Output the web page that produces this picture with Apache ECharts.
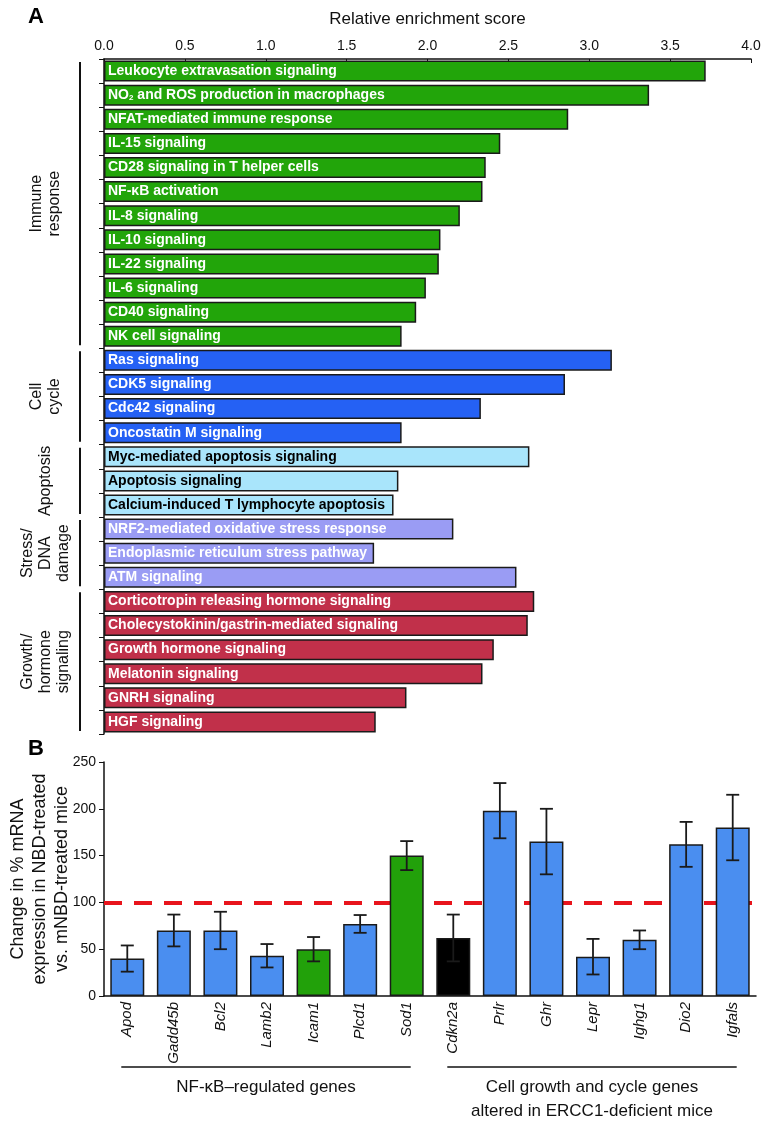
<!DOCTYPE html>
<html>
<head>
<meta charset="utf-8">
<script src="https://cdn.jsdelivr.net/npm/echarts@6/dist/echarts.min.js"></script>
<style>
  html, body { margin: 0; padding: 0; background: #fff; }
  #chart { width: 769px; height: 1130px; }
</style>
</head>
<body>
<div id="chart"></div>
<script>
'use strict';
// panel A - enrichment of pathways
var pathways = [
  'Leukocyte extravasation signaling', 'NO2 and ROS production in macrophages', 'NFAT-mediated immune response',
  'IL-15 signaling', 'CD28 signaling in T helper cells', 'NF-κB activation', 'IL-8 signaling', 'IL-10 signaling',
  'IL-22 signaling', 'IL-6 signaling', 'CD40 signaling', 'NK cell signaling',
  'Ras signaling', 'CDK5 signaling', 'Cdc42 signaling', 'Oncostatin M signaling',
  'Myc-mediated apoptosis signaling', 'Apoptosis signaling', 'Calcium-induced T lymphocyte apoptosis',
  'NRF2-mediated oxidative stress response', 'Endoplasmic reticulum stress pathway', 'ATM signaling',
  'Corticotropin releasing hormone signaling', 'Cholecystokinin/gastrin-mediated signaling', 'Growth hormone signaling',
  'Melatonin signaling', 'GNRH signaling', 'HGF signaling'
];
var scores = [
  3.72, 3.37, 2.87, 2.45, 2.36, 2.34, 2.20, 2.08, 2.07, 1.99, 1.93, 1.84,
  3.14, 2.85, 2.33, 1.84,
  2.63, 1.82, 1.79,
  2.16, 1.67, 2.55,
  2.66, 2.62, 2.41, 2.34, 1.87, 1.68
];
var groupNames = ['Immune\nresponse', 'Cell\ncycle', 'Apoptosis', 'Stress/\nDNA\ndamage', 'Growth/\nhormone\nsignaling'];
var groupSizes = [12, 4, 3, 3, 6];
var groupColors = ['#22a50a', '#2561f4', '#a9e5fb', '#9a9cf4', '#c1304a'];
var groupTextColors = ['#fff', '#fff', '#000', '#fff', '#fff'];
var xTicksA = [0, 0.5, 1, 1.5, 2, 2.5, 3, 3.5, 4];

// panel B - qPCR
var genes = ['Apod', 'Gadd45b', 'Bcl2', 'Lamb2', 'Icam1', 'Plcd1', 'Sod1', 'Cdkn2a', 'Prlr', 'Ghr', 'Lepr', 'Ighg1', 'Dio2', 'Igfals'];
var change = [40, 70, 70, 43, 50, 77, 150, 62, 198, 165, 42, 60, 162, 180];
var changeErr = [14, 17, 20, 12.5, 13, 9.5, 15.5, 25, 29.5, 35, 19, 10, 24, 35];
var geneColors = ['#4a8ef0', '#4a8ef0', '#4a8ef0', '#4a8ef0', '#22a10a', '#4a8ef0', '#22a10a', '#000000',
  '#4a8ef0', '#4a8ef0', '#4a8ef0', '#4a8ef0', '#4a8ef0', '#4a8ef0'];
var yTicksB = [0, 50, 100, 150, 200, 250];
var refLevel = 100;

var FONT = 'Liberation Sans, Arial, sans-serif';

var groupOf = [];
groupSizes.forEach(function (n, g) { for (var i = 0; i < n; i++) groupOf.push(g); });

var chart = echarts.init(document.getElementById('chart'));

var option = {
  backgroundColor: '#fff',
  animation: false,
  textStyle: { fontFamily: FONT },
  grid: [
    { left: 104, top: 59, width: 647, height: 675, containLabel: false, outerBoundsMode: 'none' },
    { left: 104, top: 762, width: 652, height: 234, containLabel: false, outerBoundsMode: 'none' }
  ],
  xAxis: [
    {
      gridIndex: 0, type: 'value', position: 'top',
      min: xTicksA[0], max: xTicksA[xTicksA.length - 1], interval: 0.5,
      name: 'Relative enrichment score', nameLocation: 'middle', nameGap: 31,
      nameTextStyle: { fontSize: 17, color: '#111', fontFamily: FONT },
      axisLine: { show: true, lineStyle: { color: '#111', width: 1.5 } },
      axisTick: { show: true, inside: true, length: 4, lineStyle: { color: '#111' } },
      axisLabel: { fontSize: 14, color: '#111', margin: 6, formatter: function (v) { return v.toFixed(1); } },
      splitLine: { show: false }
    },
    {
      gridIndex: 1, type: 'category', data: genes,
      axisLine: { show: true, lineStyle: { color: '#111', width: 1.5 } },
      axisTick: { show: false },
      axisLabel: { rotate: 90, fontSize: 15, fontStyle: 'italic', color: '#111', margin: 6, interval: 0 }
    }
  ],
  yAxis: [
    {
      gridIndex: 0, type: 'category', inverse: true, data: pathways,
      axisLine: { show: true, lineStyle: { color: '#111', width: 1.5 } },
      axisTick: { show: true, length: 5, lineStyle: { color: '#111' } },
      axisLabel: { show: false }
    },
    {
      gridIndex: 1, type: 'value', min: 0, max: 250, interval: 50,
      name: 'Change in % mRNA\nexpression in NBD-treated\nvs. mNBD-treated mice',
      nameLocation: 'middle', nameGap: 31, nameMoveOverlap: false,
      nameTextStyle: { fontSize: 18, lineHeight: 22, color: '#111', fontFamily: FONT },
      axisLine: { show: true, lineStyle: { color: '#111', width: 1.5 } },
      axisTick: { show: true, length: 5, lineStyle: { color: '#111' } },
      axisLabel: { fontSize: 14, color: '#111', margin: 8 },
      splitLine: { show: false }
    }
  ],
  series: [
    {
      type: 'bar', xAxisIndex: 0, yAxisIndex: 0, barWidth: 21,
      data: scores.map(function (v, i) {
        var g = groupOf[i];
        return {
          value: v,
          itemStyle: { color: groupColors[g], borderColor: '#1a1a1a', borderWidth: 1.5 },
          label: { color: groupTextColors[g] }
        };
      }),
      label: {
        show: true, position: 'insideLeft', distance: 4,
        fontSize: 14, fontWeight: 'bold', fontFamily: FONT,
        formatter: function (p) {
          return p.name.indexOf('NO2') === 0 ? 'NO{s|2}' + p.name.slice(3) : p.name;
        },
        rich: { s: { fontSize: 8, fontWeight: 'bold', verticalAlign: 'bottom', padding: [6, 0, 0, 0] } }
      }
    },
    {
      // reference line at 100%
      type: 'line', xAxisIndex: 1, yAxisIndex: 1, z: 1, data: [],
      markLine: {
        silent: true, symbol: 'none', z: 1,
        label: { show: false },
        lineStyle: { color: '#e8141c', width: 4, type: [18, 12] },
        data: [{ yAxis: refLevel }]
      }
    },
    {
      type: 'bar', xAxisIndex: 1, yAxisIndex: 1, z: 3, barCategoryGap: '27%',
      data: change.map(function (v, i) {
        return { value: v, itemStyle: { color: geneColors[i], borderColor: '#1a1a1a', borderWidth: 1.5 } };
      })
    },
    {
      type: 'custom', xAxisIndex: 1, yAxisIndex: 1, z: 4,
      data: change.map(function (v, i) { return [i, v - changeErr[i], v + changeErr[i]]; }),
      renderItem: function (params, api) {
        var lo = api.coord([api.value(0), api.value(1)]);
        var hi = api.coord([api.value(0), api.value(2)]);
        var w = 6.5;
        var st = { stroke: '#1a1a1a', lineWidth: 1.8 };
        return {
          type: 'group',
          children: [
            { type: 'line', shape: { x1: lo[0], y1: lo[1], x2: hi[0], y2: hi[1] }, style: st },
            { type: 'line', shape: { x1: hi[0] - w, y1: hi[1], x2: hi[0] + w, y2: hi[1] }, style: st },
            { type: 'line', shape: { x1: lo[0] - w, y1: lo[1], x2: lo[0] + w, y2: lo[1] }, style: st }
          ]
        };
      }
    }
  ]
};

chart.setOption(option);

// brackets and group labels, placed from the axes
var graphics = [];
graphics.push({ type: 'text', left: 28, top: 6, style: { text: 'A', font: 'bold 22px ' + FONT, fill: '#000' } });
graphics.push({ type: 'text', left: 28, top: 738, style: { text: 'B', font: 'bold 22px ' + FONT, fill: '#000' } });

var band = 675 / pathways.length;
var start = 0;
groupSizes.forEach(function (n, g) {
  var y1 = chart.convertToPixel({ yAxisIndex: 0 }, pathways[start]) - band / 2 + 3;
  var y2 = chart.convertToPixel({ yAxisIndex: 0 }, pathways[start + n - 1]) + band / 2 - 3;
  graphics.push({ type: 'line', shape: { x1: 80, y1: y1, x2: 80, y2: y2 }, style: { stroke: '#111', lineWidth: 2 } });
  graphics.push({
    type: 'text', x: 46, y: (y1 + y2) / 2, rotation: Math.PI / 2,
    style: { text: groupNames[g], font: '16px ' + FONT, fill: '#111', align: 'center', verticalAlign: 'middle', lineHeight: 18 }
  });
  start += n;
});

function geneX(name) { return chart.convertToPixel({ xAxisIndex: 1 }, name); }
var lineY = 1067;
[[0, 6, 'NF-κB–regulated genes'], [7, 13, 'Cell growth and cycle genes\naltered in ERCC1-deficient mice']].forEach(function (gr) {
  var xa = geneX(genes[gr[0]]) - 6;
  var xb = geneX(genes[gr[1]]) + 4;
  graphics.push({ type: 'line', shape: { x1: xa, y1: lineY, x2: xb, y2: lineY }, style: { stroke: '#111', lineWidth: 1.5 } });
  graphics.push({
    type: 'text', x: (xa + xb) / 2, y: lineY + 8,
    style: { text: gr[2], font: '17px ' + FONT, fill: '#111', align: 'center', verticalAlign: 'top', lineHeight: 24 }
  });
});

chart.setOption({ graphic: graphics });
</script>
</body>
</html>
